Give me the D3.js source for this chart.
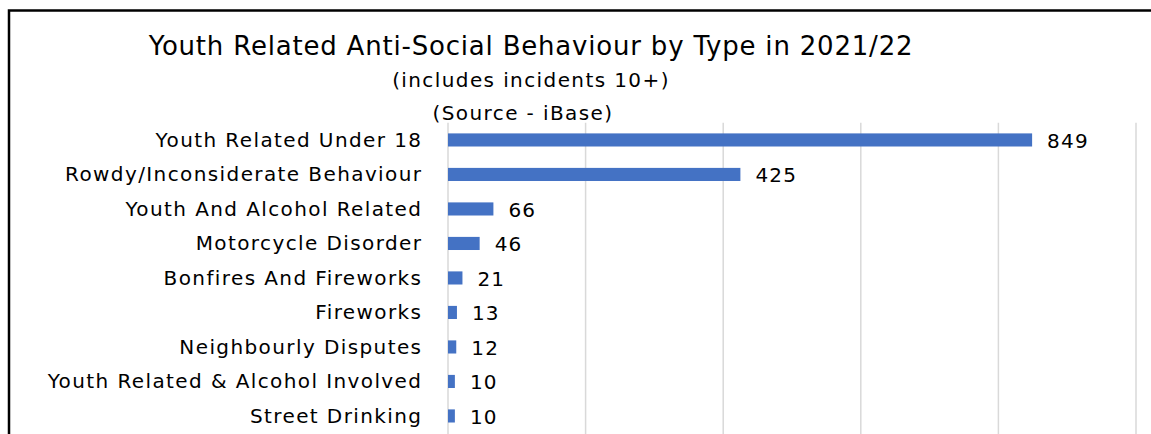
<!DOCTYPE html>
<html><head><meta charset="utf-8">
<script src="https://cdn.jsdelivr.net/npm/d3@7"></script>
<style>
html,body{margin:0;padding:0;background:#fff;}
svg{display:block;}
text{font-family:"DejaVu Sans",sans-serif;fill:#000;}
</style></head>
<body>
<svg id="chart" width="1151" height="434"></svg>
<script>
const categories = ["Youth Related Under 18","Rowdy/Inconsiderate Behaviour","Youth And Alcohol Related","Motorcycle Disorder","Bonfires And Fireworks","Fireworks","Neighbourly Disputes","Youth Related & Alcohol Involved","Street Drinking"];
const values = [849,425,66,46,21,13,12,10,10];
const xTicks = [0,200,400,600,800,1000];
const titleLines = ["Youth Related Anti-Social Behaviour by Type in 2021/22","(includes incidents 10+)","(Source - iBase)"];

const svg = d3.select("#chart");
// frame
svg.append("path").attr("d","M9,434 V10.5 H1151").attr("fill","none").attr("stroke","#000").attr("stroke-width",2.5);

const x = d3.scaleLinear().domain([0,1000]).range([448,1136]);
const y = d3.scaleBand().domain(categories).range([122.7,433.2]).paddingInner(0.62).paddingOuter(0.31);

// gridlines
svg.append("g").selectAll("line").data(xTicks).join("line")
  .attr("x1",d=>x(d)).attr("x2",d=>x(d)).attr("y1",122.7).attr("y2",434)
  .attr("stroke","#d9d9d9").attr("stroke-width",1.5);

// bars
svg.append("g").selectAll("rect").data(values).join("rect")
  .attr("x",x(0)).attr("y",(d,i)=>y(categories[i]))
  .attr("width",d=>x(d)-x(0)).attr("height",y.bandwidth())
  .attr("fill","#4472C4");

// category labels
const yAxis = d3.axisLeft(y).tickSize(0).tickPadding(25.6);
const ga = svg.append("g").attr("transform",`translate(${x(0)},0)`).call(yAxis);
ga.select(".domain").remove();
ga.selectAll("text").style("font-size","20px").style("font-family",null)
  .style("letter-spacing","1.4px").attr("dy","0.33em");

// value labels
svg.append("g").selectAll("text").data(values).join("text")
  .attr("x",d=>x(d)+15).attr("y",(d,i)=>y(categories[i])+y.bandwidth()/2)
  .attr("dy","0.4em").style("font-size","20px").style("letter-spacing","1.2px").text(d=>d);

// titles
const tPos = [[531,55,26,0.8],[531,87,20,1.4],[523,120,20,1.4]];
svg.append("g").selectAll("text").data(titleLines).join("text")
  .attr("x",(d,i)=>tPos[i][0]).attr("y",(d,i)=>tPos[i][1])
  .attr("text-anchor","middle").style("font-size",(d,i)=>tPos[i][2]+"px")
  .style("letter-spacing",(d,i)=>tPos[i][3]+"px").text(d=>d);
</script>
</body></html>
